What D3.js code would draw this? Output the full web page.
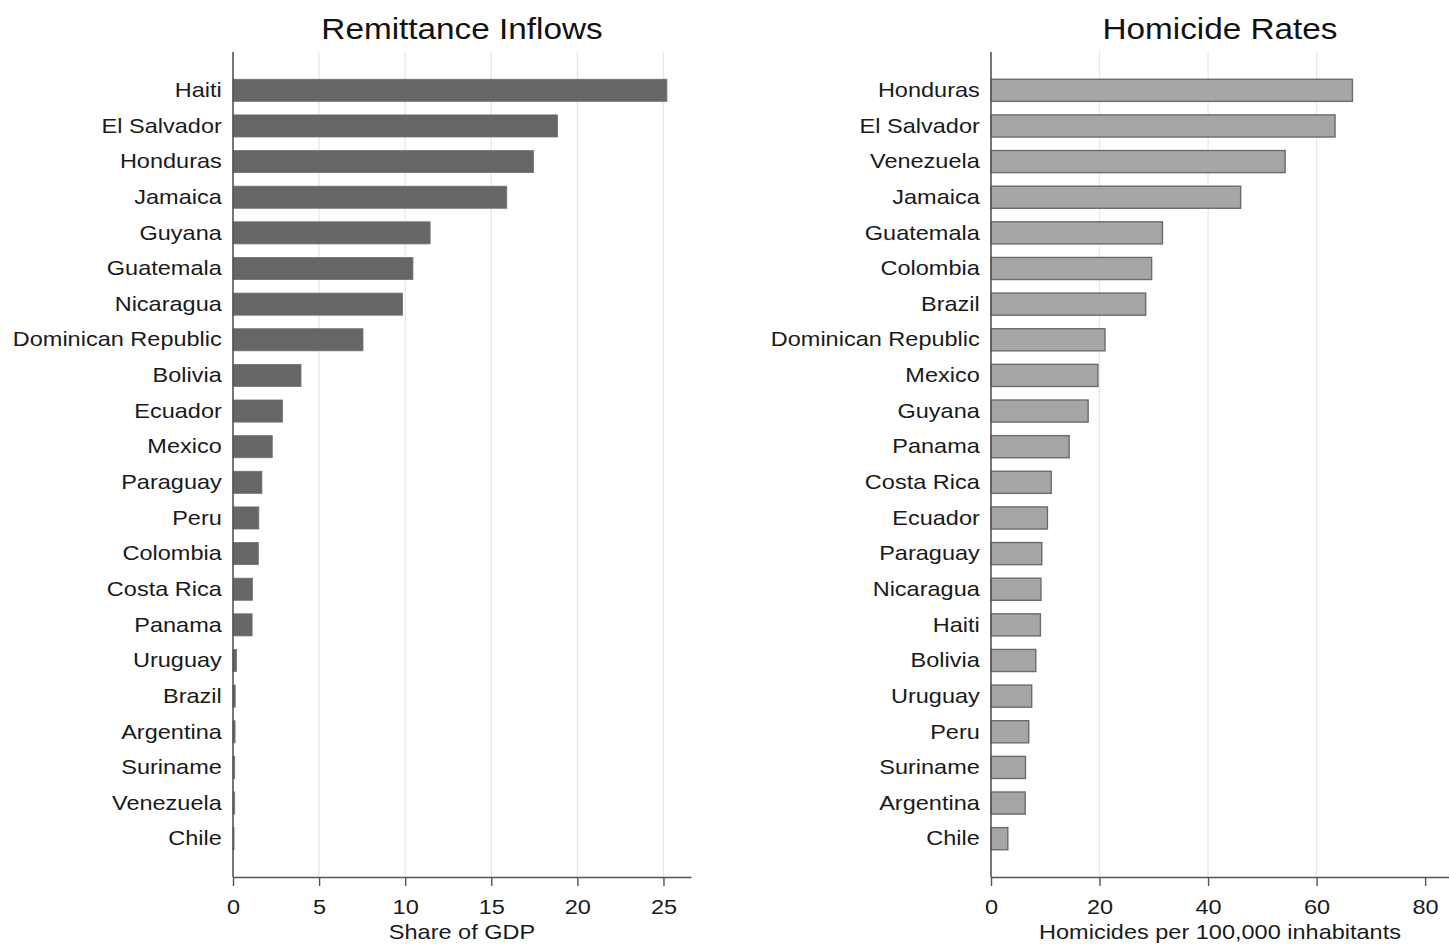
<!DOCTYPE html>
<html lang="en">
<head>
  <meta charset="UTF-8">
  <title>Remittance Inflows and Homicide Rates</title>
  <style>
    body {
      margin: 0;
      background: #ffffff;
    }

    svg text {
      font-family: 'Liberation Sans', Arial, sans-serif;
      fill: #1a1a1a;
    }
  </style>
</head>
<body>

  <svg id="chart" width="1449" height="950"></svg>

  <script src="https://d3js.org/d3.v7.min.js"></script>
  <script>
    // Remittances, share of GDP
    const remitCountries = ['Haiti', 'El Salvador', 'Honduras', 'Jamaica', 'Guyana', 'Guatemala',
      'Nicaragua', 'Dominican Republic', 'Bolivia', 'Ecuador', 'Mexico', 'Paraguay', 'Peru',
      'Colombia', 'Costa Rica', 'Panama', 'Uruguay', 'Brazil', 'Argentina', 'Suriname',
      'Venezuela', 'Chile'];
    const remitValues = [25.2, 18.85, 17.45, 15.9, 11.45, 10.45, 9.85, 7.55, 3.95, 2.88, 2.28,
      1.68, 1.5, 1.47, 1.13, 1.11, 0.2, 0.13, 0.12, 0.1, 0.1, 0.06];
    const remitTicks = [0, 5, 10, 15, 20, 25];
    const remitGrid = [5, 10, 15, 20, 25];

    // Homicides per 100,000 inhabitants
    const homCountries = ['Honduras', 'El Salvador', 'Venezuela', 'Jamaica', 'Guatemala',
      'Colombia', 'Brazil', 'Dominican Republic', 'Mexico', 'Guyana', 'Panama', 'Costa Rica',
      'Ecuador', 'Paraguay', 'Nicaragua', 'Haiti', 'Bolivia', 'Uruguay', 'Peru', 'Suriname',
      'Argentina', 'Chile'];
    const homValues = [66.6, 63.4, 54.2, 46.0, 31.6, 29.6, 28.5, 21.0, 19.7, 17.9, 14.4, 11.1,
      10.4, 9.35, 9.2, 9.1, 8.25, 7.5, 6.95, 6.35, 6.3, 3.1];
    const homTicks = [0, 20, 40, 60, 80];
    const homGrid = [20, 40, 60];

    const svg = d3.select('#chart');
    const plotTop = 52, plotBottom = 877;
    // the reference text is a bit wider than Arial, stretch it sideways
    const stretch = 'scale(1.12,1)';

    function drawPanel(opts) {
      const g = svg.append('g');

      const x = d3.scaleLinear()
        .domain([0, opts.max])
        .range([opts.left, opts.left + 458]);

      const y = d3.scaleBand()
        .domain(opts.countries)
        .range([plotTop, plotBottom])
        .paddingInner(0.38)
        .paddingOuter(0.765);

      // grid lines
      g.selectAll('.grid')
        .data(opts.grid)
        .enter().append('line')
        .attr('x1', d => x(d))
        .attr('x2', d => x(d))
        .attr('y1', plotTop)
        .attr('y2', plotBottom)
        .attr('stroke', '#e8e8e8')
        .attr('stroke-width', 1.3);

      // bars
      g.selectAll('.bar')
        .data(opts.values)
        .enter().append('rect')
        .attr('x', x(0))
        .attr('y', (d, i) => y(opts.countries[i]))
        .attr('width', d => x(d) - x(0))
        .attr('height', y.bandwidth())
        .attr('fill', opts.fill)
        .attr('stroke', opts.stroke)
        .attr('stroke-width', opts.strokeWidth);

      // category labels
      const yAxis = g.append('g')
        .attr('transform', `translate(${x(0)},0)`)
        .call(d3.axisLeft(y).tickSize(0).tickPadding(10));
      yAxis.select('.domain').remove();
      yAxis.selectAll('text')
        .attr('font-size', 21)
        .attr('transform', stretch);

      // x axis
      const xAxis = g.append('g')
        .attr('transform', `translate(0,${plotBottom})`)
        .call(d3.axisBottom(x).tickValues(opts.ticks).tickSize(9).tickSizeOuter(0).tickPadding(13));
      xAxis.select('.domain')
        .attr('stroke', '#555')
        .attr('stroke-width', 1.6);
      xAxis.selectAll('.tick line')
        .attr('stroke', '#555')
        .attr('stroke-width', 1.4);
      xAxis.selectAll('text')
        .attr('font-size', 21)
        .attr('transform', stretch);

      // left axis line
      g.append('line')
        .attr('x1', x(0))
        .attr('x2', x(0))
        .attr('y1', plotTop)
        .attr('y2', plotBottom)
        .attr('stroke', '#555')
        .attr('stroke-width', 1.6);

      const mid = (x.range()[0] + x.range()[1]) / 2;

      g.append('text')
        .attr('transform', `translate(${mid},39) scale(1.11,1)`)
        .attr('text-anchor', 'middle')
        .attr('font-size', 30)
        .style('fill', '#111')
        .text(opts.title);

      g.append('text')
        .attr('transform', `translate(${mid},939) ${stretch}`)
        .attr('text-anchor', 'middle')
        .attr('font-size', 21)
        .text(opts.xTitle);
    }

    drawPanel({
      left: 233,
      max: 26.6,
      countries: remitCountries,
      values: remitValues,
      ticks: remitTicks,
      grid: remitGrid,
      fill: '#666666',
      stroke: '#727272',
      strokeWidth: 0.8,
      title: 'Remittance Inflows',
      xTitle: 'Share of GDP'
    });

    drawPanel({
      left: 991,
      max: 84.4,
      countries: homCountries,
      values: homValues,
      ticks: homTicks,
      grid: homGrid,
      fill: '#a6a6a6',
      stroke: '#6b6b6b',
      strokeWidth: 1.4,
      title: 'Homicide Rates',
      xTitle: 'Homicides per 100,000 inhabitants'
    });
  </script>
</body>
</html>
